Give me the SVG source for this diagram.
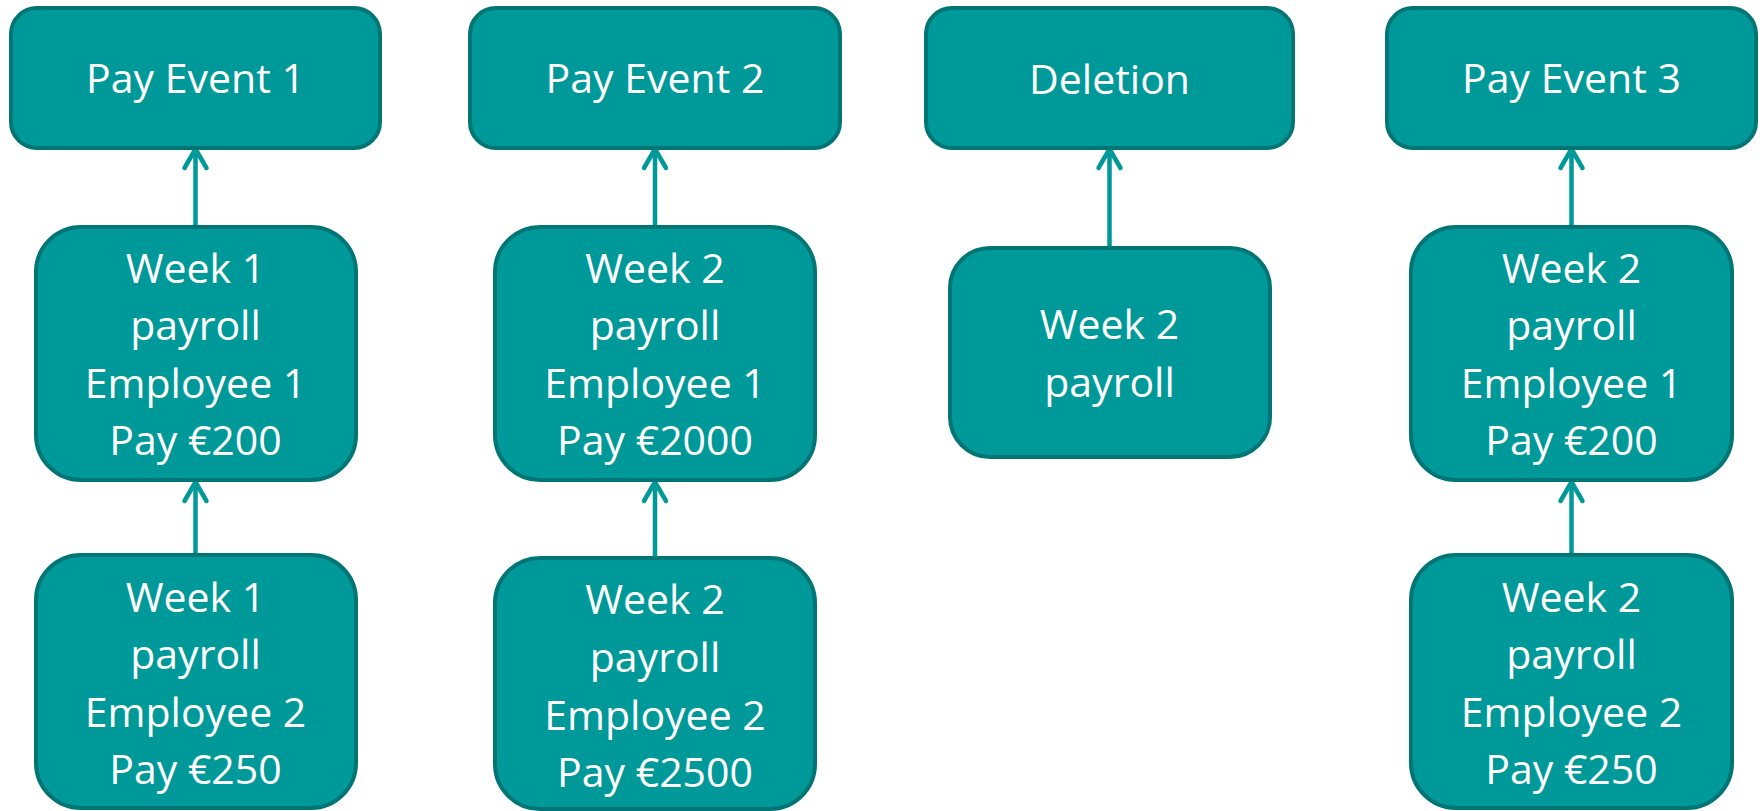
<svg xmlns="http://www.w3.org/2000/svg" width="1760" height="811" viewBox="0 0 1760 811">
<defs>
<style>
.box{fill:#009999;stroke:#007575;stroke-width:4}
.t{font-family:"Open Sans","Liberation Sans",sans-serif;font-size:41px;fill:#ffffff;text-anchor:middle}
.conn{stroke:#009999;stroke-width:4.5;fill:none;stroke-linecap:round;stroke-linejoin:round}
</style>
</defs>
<rect width="1760" height="811" fill="#ffffff"/>
<g id="connectors">
<path class="conn" d="M195.5 227 V150"/>
<path d="M184.5 168 L195.5 149 L206.5 168" class="conn"/>
<path class="conn" d="M195.5 555 V483"/>
<path d="M184.5 501 L195.5 482 L206.5 501" class="conn"/>
<path class="conn" d="M655 227 V150"/>
<path d="M644 168 L655 149 L666 168" class="conn"/>
<path class="conn" d="M655 558 V483"/>
<path d="M644 501 L655 482 L666 501" class="conn"/>
<path class="conn" d="M1109.5 247 V150"/>
<path d="M1098.5 168 L1109.5 149 L1120.5 168" class="conn"/>
<path class="conn" d="M1571.5 227 V150"/>
<path d="M1560.5 168 L1571.5 149 L1582.5 168" class="conn"/>
<path class="conn" d="M1571.5 555 V483"/>
<path d="M1560.5 501 L1571.5 482 L1582.5 501" class="conn"/>
</g>
<g id="payEvent1">
<rect class="box" x="11" y="8" width="369" height="140" rx="26"/>
<text class="t" x="195.5" y="93">Pay Event 1</text>
</g>
<g id="week1Emp1">
<rect class="box" x="36" y="227" width="320" height="253" rx="45"/>
<text class="t" x="195.5" y="283">Week 1</text>
<text class="t" x="195.5" y="340">payroll</text>
<text class="t" x="195.5" y="398">Employee 1</text>
<text class="t" x="195.5" y="455">Pay €200</text>
</g>
<g id="week1Emp2">
<rect class="box" x="36" y="555" width="320" height="253" rx="45"/>
<text class="t" x="195.5" y="612">Week 1</text>
<text class="t" x="195.5" y="669">payroll</text>
<text class="t" x="195.5" y="727">Employee 2</text>
<text class="t" x="195.5" y="784">Pay €250</text>
</g>
<g id="payEvent2">
<rect class="box" x="470" y="8" width="370" height="140" rx="26"/>
<text class="t" x="655" y="93">Pay Event 2</text>
</g>
<g id="week2Emp1">
<rect class="box" x="495" y="227" width="320" height="253" rx="45"/>
<text class="t" x="655" y="283">Week 2</text>
<text class="t" x="655" y="340">payroll</text>
<text class="t" x="655" y="398">Employee 1</text>
<text class="t" x="655" y="455">Pay €2000</text>
</g>
<g id="week2Emp2">
<rect class="box" x="495" y="558" width="320" height="251" rx="45"/>
<text class="t" x="655" y="614">Week 2</text>
<text class="t" x="655" y="672">payroll</text>
<text class="t" x="655" y="730">Employee 2</text>
<text class="t" x="655" y="787">Pay €2500</text>
</g>
<g id="deletion">
<rect class="box" x="926" y="8" width="367" height="140" rx="26"/>
<text class="t" x="1109.5" y="94">Deletion</text>
</g>
<g id="week2Payroll">
<rect class="box" x="950" y="248" width="320" height="209" rx="40"/>
<text class="t" x="1109.5" y="339">Week 2</text>
<text class="t" x="1109.5" y="397">payroll</text>
</g>
<g id="payEvent3">
<rect class="box" x="1387" y="8" width="369" height="140" rx="26"/>
<text class="t" x="1571.5" y="93">Pay Event 3</text>
</g>
<g id="week2Emp1b">
<rect class="box" x="1411" y="227" width="321" height="253" rx="45"/>
<text class="t" x="1571.5" y="283">Week 2</text>
<text class="t" x="1571.5" y="340">payroll</text>
<text class="t" x="1571.5" y="398">Employee 1</text>
<text class="t" x="1571.5" y="455">Pay €200</text>
</g>
<g id="week2Emp2b">
<rect class="box" x="1411" y="555" width="321" height="253" rx="45"/>
<text class="t" x="1571.5" y="612">Week 2</text>
<text class="t" x="1571.5" y="669">payroll</text>
<text class="t" x="1571.5" y="727">Employee 2</text>
<text class="t" x="1571.5" y="784">Pay €250</text>
</g>
</svg>
